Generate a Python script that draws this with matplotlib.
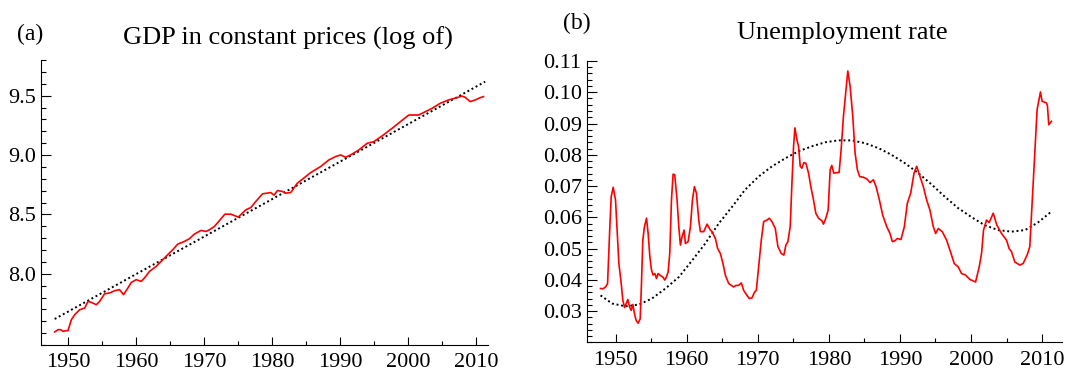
import numpy as np
import matplotlib.pyplot as plt
from matplotlib.ticker import MultipleLocator, FixedLocator, FormatStrFormatter

plt.rcParams['font.family'] = ['Liberation Serif', 'DejaVu Serif']

# (a) log GDP
gdp_year = [1948.01, 1948.50, 1948.89, 1949.24, 1949.73, 1949.97, 1950.46, 1950.95, 1951.68,
            1952.42, 1952.91, 1953.40, 1954.13, 1954.62, 1955.36, 1956.09, 1956.82, 1957.55,
            1958.14, 1958.78, 1959.27, 1960.00, 1960.73, 1961.22, 1961.96, 1962.94, 1963.67,
            1964.65, 1965.38, 1966.12, 1967.09, 1967.83, 1968.56, 1969.54, 1970.27, 1970.76,
            1971.50, 1972.23, 1973.06, 1973.94, 1975.02, 1976.14, 1976.88, 1977.61, 1978.59,
            1979.81, 1980.30, 1980.79, 1981.52, 1982.01, 1982.75, 1983.72, 1984.46, 1985.68,
            1987.15, 1988.37, 1989.35, 1990.09, 1990.82, 1991.56, 1992.78, 1994.00, 1994.98,
            1996.20, 1997.67, 1998.89, 2000.12, 2000.85, 2001.58, 2002.56, 2003.54, 2004.76,
            2005.98, 2007.21, 2007.94, 2008.43, 2009.16, 2009.90, 2010.63, 2011.12]
gdp_log = [7.510, 7.529, 7.529, 7.515, 7.521, 7.521, 7.613, 7.655, 7.697,
           7.711, 7.767, 7.759, 7.739, 7.767, 7.832, 7.838, 7.857, 7.866,
           7.824, 7.880, 7.927, 7.950, 7.936, 7.964, 8.020, 8.062, 8.104,
           8.161, 8.202, 8.250, 8.272, 8.295, 8.334, 8.365, 8.356, 8.370,
           8.398, 8.446, 8.502, 8.502, 8.477, 8.538, 8.558, 8.609, 8.673,
           8.684, 8.662, 8.701, 8.693, 8.679, 8.684, 8.763, 8.796, 8.852,
           8.903, 8.959, 8.987, 9.001, 8.981, 9.001, 9.043, 9.099, 9.113,
           9.161, 9.225, 9.281, 9.337, 9.337, 9.337, 9.365, 9.393, 9.436,
           9.464, 9.483, 9.497, 9.486, 9.450, 9.464, 9.483, 9.492]
gdp_trend_year = [1948.01, 2011.37]
gdp_trend = [7.619, 9.618]
gdp_ticks = [8.0, 8.5, 9.0, 9.5]

# (b) unemployment rate
un_year = [1947.87, 1948.20, 1948.58, 1948.86, 1949.14, 1949.37, 1949.65, 1949.98, 1950.22, 1950.45,
           1950.78, 1951.01, 1951.25, 1951.48, 1951.71, 1951.95, 1952.18, 1952.42, 1952.65, 1952.88,
           1953.16, 1953.45, 1953.63, 1953.82, 1954.05, 1954.34, 1954.57, 1954.81, 1955.04, 1955.27,
           1955.51, 1955.74, 1955.97, 1956.21, 1956.63, 1956.91, 1957.14, 1957.38, 1957.61, 1957.85,
           1958.08, 1958.31, 1958.64, 1958.88, 1959.11, 1959.34, 1959.63, 1959.81, 1960.19, 1960.52,
           1960.80, 1961.08, 1961.36, 1961.69, 1961.92, 1962.39, 1962.86, 1963.32, 1963.56, 1964.03,
           1964.35, 1964.73, 1965.10, 1965.43, 1965.90, 1966.60, 1966.93, 1967.30, 1967.68, 1968.01,
           1968.47, 1968.80, 1969.18, 1969.55, 1969.79, 1970.11, 1970.49, 1970.82, 1971.29, 1971.61,
           1971.99, 1972.46, 1972.83, 1973.30, 1973.67, 1973.95, 1974.23, 1974.56, 1974.80, 1975.03,
           1975.22, 1975.50, 1975.73, 1975.97, 1976.20, 1976.48, 1976.76, 1977.14, 1977.46, 1977.84,
           1978.16, 1978.54, 1979.01, 1979.24, 1979.57, 1979.90, 1980.18, 1980.41, 1980.69, 1981.11,
           1981.44, 1981.72, 1982.05, 1982.42, 1982.66, 1982.99, 1983.36, 1983.69, 1984.01, 1984.34,
           1984.86, 1985.33, 1985.79, 1986.26, 1986.64, 1987.11, 1987.57, 1988.14, 1988.60, 1988.93,
           1989.31, 1989.64, 1990.15, 1990.62, 1991.04, 1991.51, 1991.98, 1992.35, 1992.82, 1993.29,
           1993.76, 1994.22, 1994.69, 1995.02, 1995.39, 1995.95, 1996.56, 1997.03, 1997.64, 1998.20,
           1998.67, 1999.23, 1999.84, 2000.64, 2001.15, 2001.48, 2001.76, 2002.18, 2002.56, 2003.12,
           2003.63, 2004.29, 2004.99, 2005.36, 2005.69, 2006.16, 2006.86, 2007.33, 2007.89, 2008.27,
           2008.74, 2009.30, 2009.77, 2010.00, 2010.61, 2010.75, 2010.94, 2011.31]
un_rate = [0.0372, 0.0371, 0.0377, 0.0388, 0.0548, 0.0666, 0.0696, 0.0655, 0.0548, 0.0452,
           0.0388, 0.0334, 0.0311, 0.0324, 0.0337, 0.0313, 0.0302, 0.0321, 0.0291, 0.0270,
           0.0261, 0.0275, 0.0388, 0.0527, 0.0570, 0.0597, 0.0548, 0.0473, 0.0431, 0.0415,
           0.0420, 0.0404, 0.0420, 0.0415, 0.0409, 0.0399, 0.0409, 0.0425, 0.0484, 0.0655,
           0.0738, 0.0736, 0.0655, 0.0570, 0.0511, 0.0538, 0.0559, 0.0516, 0.0522, 0.0570,
           0.0655, 0.0698, 0.0677, 0.0591, 0.0554, 0.0554, 0.0578, 0.0559, 0.0554, 0.0532,
           0.0500, 0.0484, 0.0452, 0.0415, 0.0388, 0.0377, 0.0382, 0.0382, 0.0390, 0.0366,
           0.0350, 0.0340, 0.0342, 0.0361, 0.0366, 0.0441, 0.0527, 0.0586, 0.0591, 0.0597,
           0.0586, 0.0564, 0.0506, 0.0484, 0.0479, 0.0511, 0.0522, 0.0570, 0.0709, 0.0827,
           0.0886, 0.0848, 0.0827, 0.0763, 0.0757, 0.0775, 0.0773, 0.0741, 0.0698, 0.0655,
           0.0613, 0.0597, 0.0589, 0.0578, 0.0597, 0.0623, 0.0752, 0.0766, 0.0741, 0.0743,
           0.0743, 0.0816, 0.0923, 0.1009, 0.1068, 0.1019, 0.0923, 0.0805, 0.0752, 0.0730,
           0.0728, 0.0723, 0.0711, 0.0720, 0.0698, 0.0655, 0.0607, 0.0570, 0.0548, 0.0522,
           0.0525, 0.0532, 0.0529, 0.0570, 0.0645, 0.0677, 0.0741, 0.0763, 0.0730, 0.0698,
           0.0655, 0.0623, 0.0570, 0.0548, 0.0564, 0.0554, 0.0527, 0.0495, 0.0452, 0.0441,
           0.0420, 0.0415, 0.0401, 0.0393, 0.0441, 0.0484, 0.0559, 0.0591, 0.0583, 0.0613,
           0.0575, 0.0548, 0.0527, 0.0500, 0.0490, 0.0457, 0.0447, 0.0452, 0.0479, 0.0506,
           0.0709, 0.0945, 0.1001, 0.0971, 0.0966, 0.0957, 0.0896, 0.0907]
un_trend_year = [1947.87, 1949.5, 1951.4, 1953.3, 1955.1, 1957.0, 1958.9, 1960.8, 1962.6, 1964.5,
                 1966.4, 1968.2, 1970.1, 1972.0, 1973.9, 1975.7, 1977.6, 1979.5, 1981.3, 1983.2,
                 1985.1, 1987.0, 1988.8, 1990.7, 1992.6, 1994.5, 1996.3, 1998.2, 2000.1, 2001.9,
                 2003.8, 2005.7, 2007.6, 2009.4, 2011.3]
un_trend = [0.0350, 0.0324, 0.0315, 0.0321, 0.0340, 0.0372, 0.0409, 0.0463, 0.0516, 0.0580,
            0.0634, 0.0688, 0.0730, 0.0763, 0.0789, 0.0811, 0.0827, 0.0840, 0.0846, 0.0846,
            0.0837, 0.0821, 0.0800, 0.0773, 0.0741, 0.0704, 0.0666, 0.0629, 0.0600, 0.0575,
            0.0559, 0.0554, 0.0559, 0.0583, 0.0618]
un_ticks = [0.03, 0.04, 0.05, 0.06, 0.07, 0.08, 0.09, 0.10, 0.11]

fig = plt.figure(figsize=(10.89, 3.71), dpi=100)
ax1 = fig.add_axes([0.0377, 0.0701, 0.4105, 0.768])
ax2 = fig.add_axes([0.5386, 0.0774, 0.4366, 0.7582])

dots = (0, (1, 1.4))

ax1.plot(gdp_trend_year, gdp_trend, color='black', lw=1.4, linestyle=dots)
ax1.plot(gdp_year, gdp_log, color='red', lw=1.2)
ax1.set_xlim(1946.0, 2011.8)
ax1.set_ylim(7.40, 9.80)
ax1.yaxis.set_major_locator(FixedLocator(gdp_ticks))
ax1.yaxis.set_minor_locator(MultipleLocator(0.1))
ax1.yaxis.set_major_formatter(FormatStrFormatter('%.1f'))

ax2.plot(un_trend_year, un_trend, color='black', lw=1.4, linestyle=dots)
ax2.plot(un_year, un_rate, color='red', lw=1.2)
ax2.set_xlim(1945.9, 2012.8)
ax2.set_ylim(0.02, 0.11)
ax2.yaxis.set_major_locator(FixedLocator(un_ticks))
ax2.yaxis.set_minor_locator(MultipleLocator(0.002))
ax2.yaxis.set_major_formatter(FormatStrFormatter('%.2f'))

for ax in (ax1, ax2):
    ax.spines['top'].set_visible(False)
    ax.spines['right'].set_visible(False)
    for s in ('left', 'bottom'):
        ax.spines[s].set_linewidth(0.8)
    ax.xaxis.set_major_locator(MultipleLocator(10))
    ax.xaxis.set_minor_locator(MultipleLocator(5))
    ax.tick_params(axis='both', which='both', direction='in', labelsize=16, width=0.8)
    ax.tick_params(axis='x', which='major', length=6.1, pad=6)
    ax.tick_params(axis='x', which='minor', length=2.8)
    ax.tick_params(axis='y', which='major', length=7, pad=3.5)
    ax.tick_params(axis='y', which='minor', length=3.6)

fig.text(0.0273, 0.908, '(a)', fontsize=17, ha='center', va='center')
fig.text(0.264, 0.8787, 'GDP in constant prices (log of)', fontsize=19, ha='center', va='baseline')
fig.text(0.530, 0.938, '(b)', fontsize=17, ha='center', va='center')
fig.text(0.7738, 0.894, 'Unemployment rate', fontsize=19, ha='center', va='baseline')

fig.savefig('out.png', dpi=100)
